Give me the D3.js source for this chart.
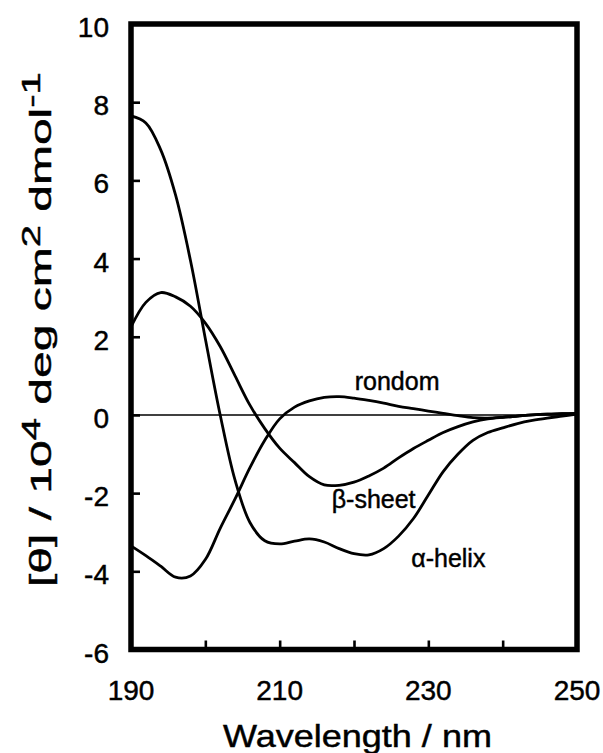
<!DOCTYPE html>
<html>
<head>
<meta charset="utf-8">
<script src="https://cdn.jsdelivr.net/npm/d3@7"></script>
<style>
  html, body { margin: 0; padding: 0; background: #fff; }
  svg { display: block; }
  text { font-family: Arial, "Liberation Sans", sans-serif; fill: #000; stroke: #000; stroke-width: 0.45px; }
</style>
</head>
<body>
<svg id="chart" width="603" height="753"></svg>
<script>
// CD spectra of the three secondary-structure references, [θ] in 10^4 deg cm^2 dmol^-1
const wavelength = [190,192,194,196,198,200,202,204,206,208,210,212,214,216,218,220,
                    222,224,226,228,230,232,234,236,238,240,242,244,246,248,250];
const alphaHelix = [7.65,7.47,6.78,5.62,3.95,1.95,0.0,-1.67,-2.75,-3.22,-3.3,-3.23,-3.17,-3.25,-3.42,-3.55,
                    -3.58,-3.42,-3.1,-2.65,-2.05,-1.45,-1.0,-0.65,-0.45,-0.33,-0.22,-0.14,-0.08,-0.03,0.02];
const betaSheet  = [2.25,2.88,3.13,3.02,2.78,2.35,1.75,1.0,0.25,-0.35,-0.85,-1.22,-1.58,-1.79,-1.8,-1.72,
                    -1.56,-1.36,-1.1,-0.86,-0.65,-0.45,-0.3,-0.18,-0.1,-0.06,-0.03,0.0,0.02,0.03,0.04];
const randomCoil = [-3.35,-3.6,-3.87,-4.15,-4.12,-3.7,-2.9,-2.15,-1.35,-0.65,-0.1,0.2,0.36,0.45,0.47,0.43,
                    0.37,0.3,0.22,0.16,0.1,0.04,-0.02,-0.07,-0.08,-0.06,-0.03,0.0,0.02,0.03,0.04];

const xTickLabels = [190, 210, 230, 250];
const xInnerTicks = [200, 210, 220, 230, 240];
const yTickLabels = [10, 8, 6, 4, 2, 0, -2, -4, -6];
const yInnerTicks = [8, 6, 4, 2, 0, -2, -4];

const seriesNames = ["α-helix", "β-sheet", "rondom"];
const seriesValues = [alphaHelix, betaSheet, randomCoil];

const svg = d3.select("#chart");

const x = d3.scaleLinear().domain([190, 250]).range([131, 577]);
const y = d3.scaleLinear().domain([-6, 10]).range([649.5, 24]);

// zero reference line
svg.append("line")
  .attr("x1", x(190)).attr("x2", x(250))
  .attr("y1", y(0)).attr("y2", y(0))
  .attr("stroke", "#000").attr("stroke-width", 1.6);

// spectra
const line = d3.line()
  .x(d => x(d[0]))
  .y(d => y(d[1]))
  .curve(d3.curveCatmullRom.alpha(0.5));

seriesValues.forEach(vals => {
  svg.append("path")
    .datum(wavelength.map((w, i) => [w, vals[i]]))
    .attr("fill", "none")
    .attr("stroke", "#000")
    .attr("stroke-width", 2.8)
    .attr("stroke-linejoin", "round")
    .attr("d", line);
});

// inward ticks
const yAxis = d3.axisLeft(y).tickValues(yInnerTicks).tickSize(-9).tickFormat("");
svg.append("g").attr("transform", `translate(${x(190)},0)`).call(yAxis)
  .call(g => g.select(".domain").remove())
  .call(g => g.selectAll("line").attr("stroke-width", 2.6));

const xAxis = d3.axisBottom(x).tickValues(xInnerTicks).tickSize(-9).tickFormat("");
svg.append("g").attr("transform", `translate(0,${y(-6)})`).call(xAxis)
  .call(g => g.select(".domain").remove())
  .call(g => g.selectAll("line").attr("stroke-width", 2.6));

// heavy frame
svg.append("rect")
  .attr("x", x(190)).attr("y", y(10))
  .attr("width", x(250) - x(190)).attr("height", y(-6) - y(10))
  .attr("fill", "none").attr("stroke", "#000").attr("stroke-width", 5.5);

// tick labels
svg.append("g").selectAll("text").data(yTickLabels).join("text")
  .attr("x", 109).attr("y", d => y(d) + 13)
  .attr("text-anchor", "end")
  .attr("font-size", 28)
  .text(d => d);

svg.append("g").selectAll("text").data(xTickLabels).join("text")
  .attr("x", d => x(d)).attr("y", 700)
  .attr("text-anchor", "middle")
  .attr("font-size", 28)
  .text(d => d);

// curve labels, anchored in data units
const labelAnchors = [
  { name: seriesNames[2], w: 225.8, v: 0.64, anchor: "middle" },
  { name: seriesNames[1], w: 217.0, v: -2.38, anchor: "start" },
  { name: seriesNames[0], w: 227.7, v: -3.89, anchor: "start" }
];
svg.append("g").selectAll("text").data(labelAnchors).join("text")
  .attr("x", d => x(d.w)).attr("y", d => y(d.v))
  .attr("text-anchor", d => d.anchor)
  .attr("font-size", 25)
  .text(d => d.name);

// x axis title, stretched to span its width
const xTitle = svg.append("text")
  .attr("font-size", 32)
  .attr("text-anchor", "start")
  .text("Wavelength / nm");
{
  const w = xTitle.node().getComputedTextLength();
  const sx = 269 / w;
  xTitle.attr("transform", `translate(223,747) scale(${sx},1)`);
}

// y axis title with superscripts
const yTitle = svg.append("text").attr("font-size", 30);
const parts = [
  ["[θ] / 10", false], ["4", true], [" deg cm", false], ["2", true],
  [" dmol", false], ["-1", true]
];
parts.forEach(([t, sup]) => {
  const ts = yTitle.append("tspan").text(t);
  if (sup) ts.attr("font-size", 25).attr("baseline-shift", "45%");
  else ts.attr("baseline-shift", "0%");
});
{
  const len = yTitle.node().getComputedTextLength();
  const s = 515 / len;
  yTitle.attr("transform", `translate(51,587) rotate(-90) scale(${s},1)`);
}
</script>
</body>
</html>
